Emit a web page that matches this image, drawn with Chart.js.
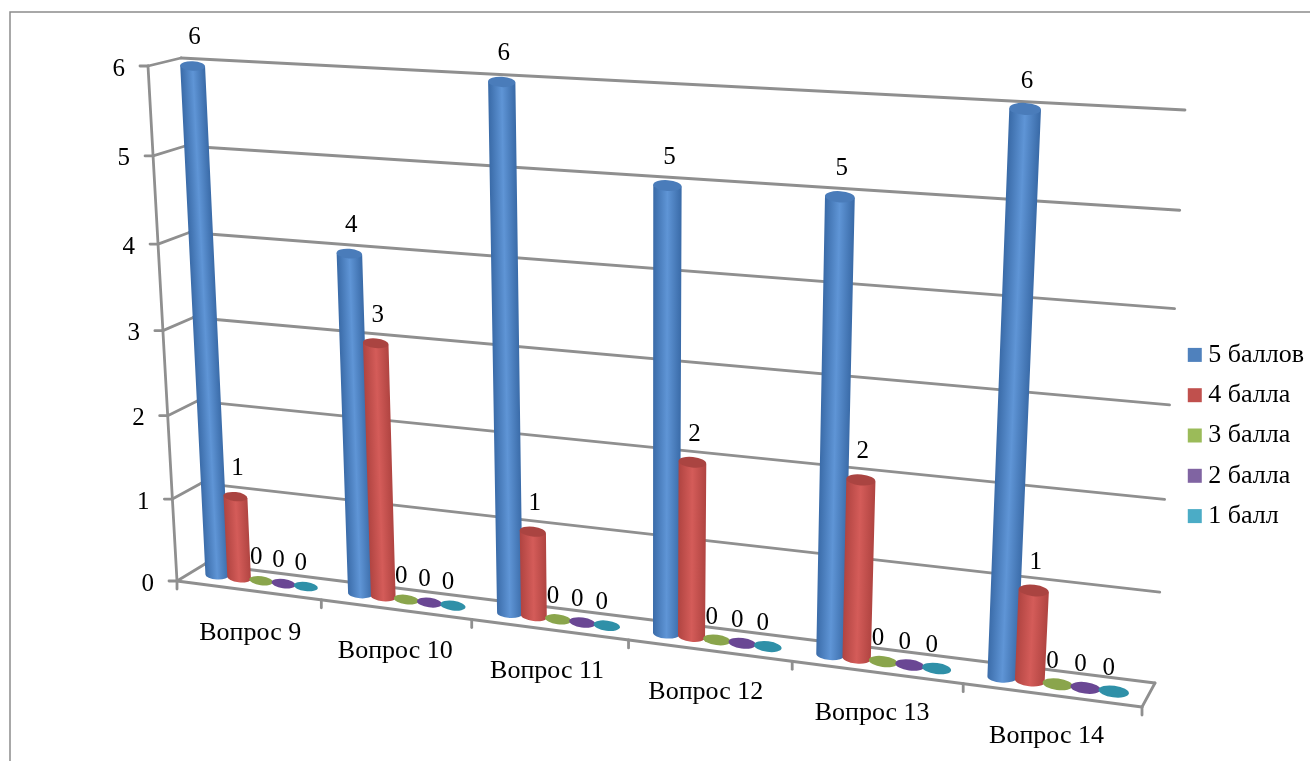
<!DOCTYPE html>
<html>
<head>
<meta charset="utf-8">
<title>Вопросы 9-14</title>
<script src="https://cdn.jsdelivr.net/npm/chart.js@4/dist/chart.umd.min.js"></script>
<style>
  html, body { margin: 0; padding: 0; background: #fff; }
  canvas { display: block; }
</style>
</head>
<body>
<canvas id="chart" width="1310" height="761"></canvas>
<script>
// values
var categories = ["Вопрос 9", "Вопрос 10", "Вопрос 11", "Вопрос 12", "Вопрос 13", "Вопрос 14"];
var seriesNames = ["5 баллов", "4 балла", "3 балла", "2 балла", "1 балл"];
var score5 = [6, 4, 6, 5, 5, 6];
var score4 = [1, 3, 1, 2, 2, 1];
var score3 = [0, 0, 0, 0, 0, 0];
var score2 = [0, 0, 0, 0, 0, 0];
var score1 = [0, 0, 0, 0, 0, 0];
var yMax = 6;

// colours: legend, cylinder edge, cylinder middle, cap
var legendColors = ["#4F81BD", "#C0504D", "#9BBB59", "#8064A2", "#4BACC6"];
var edgeColors = ["#3a6ba8", "#b04441", "#7f9a45", "#5d3f85", "#2a8aa3"];
var midColors = ["#5f95d6", "#d45c59", "#93ad50", "#6f4b99", "#3497ae"];
var capColors = ["#4a7cba", "#aa4441", "#8aa54c", "#6a4794", "#2f90a8"];

var fontFamily = "'Liberation Serif', serif";
var gridColor = "#8f8f8f";

// the plot is a flat rectangle for Chart.js, these quads place it in perspective
// order: bottom left, bottom right, top right, top left
var wallQuad = [[205, 564], [1155, 683], [1185, 110], [181, 58]];
var frontQuad = [[177, 581], [1142, 707], [1172, 125], [148, 66]];
var barQuad = [[191, 571.6], [1148, 696], [1181, 117], [165, 64.5]];

function homography(q) {
	var x0 = q[0][0], y0 = q[0][1], x1 = q[1][0], y1 = q[1][1];
	var x2 = q[2][0], y2 = q[2][1], x3 = q[3][0], y3 = q[3][1];
	var dx1 = x1 - x2, dx2 = x3 - x2, sx = x0 - x1 + x2 - x3;
	var dy1 = y1 - y2, dy2 = y3 - y2, sy = y0 - y1 + y2 - y3;
	var den = dx1 * dy2 - dx2 * dy1;
	var g = (sx * dy2 - dx2 * sy) / den;
	var h = (dx1 * sy - sx * dy1) / den;
	var a = x1 - x0 + g * x1, b = x3 - x0 + h * x3;
	var d = y1 - y0 + g * y1, e = y3 - y0 + h * y3;
	return function (u, v) {
		var w = g * u + h * v + 1;
		return [(a * u + b * v + x0) / w, (d * u + e * v + y0) / w];
	};
}

var wall = homography(wallQuad);
var front = homography(frontQuad);
var plane = homography(barQuad);

function line(ctx, a, b) {
	ctx.beginPath();
	ctx.moveTo(a[0], a[1]);
	ctx.lineTo(b[0], b[1]);
	ctx.stroke();
}

function drawCylinder(ctx, area, el, i) {
	function at(x, y) {
		return plane((x - area.left) / area.width, (area.bottom - y) / area.height);
	}
	var half = el.width / 2;
	var tl = at(el.x - half, el.y), tr = at(el.x + half, el.y);
	var bl = at(el.x - half, el.base), br = at(el.x + half, el.base);
	var tc = at(el.x, el.y), bc = at(el.x, el.base);
	var topR = (tr[0] - tl[0]) / 2, baseR = (br[0] - bl[0]) / 2;
	var rot = Math.atan2(tr[1] - tl[1], tr[0] - tl[0]);

	if (el.base - el.y > 1) {
		// shade across the cylinder, square to its leaning axis
		var ax = tc[0] - bc[0], ay = tc[1] - bc[1], len = Math.sqrt(ax * ax + ay * ay);
		var nx = -ay / len, ny = ax / len, r = (topR + baseR) / 2;
		var mx = (tc[0] + bc[0]) / 2, my = (tc[1] + bc[1]) / 2;
		var grad = ctx.createLinearGradient(mx - nx * r, my - ny * r, mx + nx * r, my + ny * r);
		grad.addColorStop(0, edgeColors[i]);
		grad.addColorStop(0.5, midColors[i]);
		grad.addColorStop(1, edgeColors[i]);
		ctx.fillStyle = grad;
		ctx.beginPath();
		ctx.ellipse(bc[0], bc[1], baseR, baseR * 0.38, rot, 0, Math.PI);
		ctx.lineTo(tl[0], tl[1]);
		ctx.lineTo(tr[0], tr[1]);
		ctx.closePath();
		ctx.fill();
	}
	ctx.fillStyle = capColors[i];
	ctx.beginPath();
	ctx.ellipse(tc[0], tc[1], topR, topR * 0.38, rot, 0, Math.PI * 2);
	ctx.fill();
}

var perspective = {
	id: "perspective",
	beforeDraw: function (chart) {
		var ctx = chart.ctx;
		ctx.save();
		ctx.strokeStyle = "#8c8c8c";
		ctx.lineWidth = 1.5;
		ctx.beginPath();
		ctx.moveTo(1310, 12);
		ctx.lineTo(10, 12);
		ctx.lineTo(10, 761);
		ctx.stroke();
		ctx.restore();
	},
	// the flat bars are replaced by cylinders, so the whole pass happens here
	beforeDatasetsDraw: function (chart) {
		var ctx = chart.ctx, area = chart.chartArea;
		var xs = chart.scales.x, ys = chart.scales.y;
		ctx.save();
		ctx.strokeStyle = gridColor;
		ctx.lineWidth = 2.8;
		ctx.lineCap = "round";

		// back wall grid, side wall steps, left axis
		ys.ticks.forEach(function (t) {
			var v = (area.bottom - ys.getPixelForValue(t.value)) / area.height;
			line(ctx, wall(0, v), wall(1, v));
			line(ctx, front(0, v), wall(0, v));
			var f = front(0, v);
			line(ctx, [f[0] - 8, f[1]], f);
		});
		line(ctx, front(0, 0), front(0, 1));

		// floor edges and category ticks
		line(ctx, front(0, 0), front(1, 0));
		line(ctx, front(1, 0), wall(1, 0));
		for (var c = 0; c <= categories.length; c++) {
			var p = front(c / categories.length, 0);
			line(ctx, p, [p[0], p[1] + 8]);
		}

		// y tick labels
		ctx.fillStyle = "#000";
		ctx.font = "25px " + fontFamily;
		ctx.textAlign = "right";
		ctx.textBaseline = "middle";
		ys.ticks.forEach(function (t) {
			var v = (area.bottom - ys.getPixelForValue(t.value)) / area.height;
			var f = front(0, v);
			ctx.fillText(t.label, f[0] - 23, f[1] + 3);
		});

		// x tick labels
		ctx.font = "26px " + fontFamily;
		ctx.textAlign = "center";
		categories.forEach(function (name, k) {
			var u = (xs.getPixelForTick(k) - area.left) / area.width;
			var b = plane(u, 0);
			ctx.fillText(name, b[0] - 11, b[1] + 52);
		});

		// cylinders, category by category so that neighbours overlap left to right
		categories.forEach(function (name, k) {
			chart.data.datasets.forEach(function (ds, i) {
				drawCylinder(ctx, area, chart.getDatasetMeta(i).data[k], i);
			});
		});

		// value labels
		ctx.fillStyle = "#000";
		ctx.font = "25px " + fontFamily;
		chart.data.datasets.forEach(function (ds, i) {
			chart.getDatasetMeta(i).data.forEach(function (el, k) {
				var t = plane((el.x - area.left) / area.width, (area.bottom - el.y) / area.height);
				var zero = ds.data[k] === 0;
				ctx.fillText(String(ds.data[k]), t[0] + (zero ? -5 : 2), t[1] + (zero ? -23 : -28));
			});
		});
		ctx.restore();
		return false;
	}
};

var seriesValues = [score5, score4, score3, score2, score1];

var chart = new Chart(document.getElementById("chart"), {
	type: "bar",
	data: {
		labels: categories,
		datasets: seriesNames.map(function (name, i) {
			return {
				label: name,
				data: seriesValues[i],
				backgroundColor: legendColors[i],
				barPercentage: 1.08,
				categoryPercentage: 0.78
			};
		})
	},
	options: {
		responsive: false,
		animation: false,
		layout: { padding: { top: 110, right: -4 } },
		plugins: {
			tooltip: { enabled: false },
			legend: {
				position: "right",
				onClick: null,
				labels: {
					// tiny box with a thick border: gives the 14px square and the reference's short gap to the text
					boxWidth: 1,
					boxHeight: 1,
					padding: 14.3,
					color: "#000",
					font: { family: "'Liberation Serif', serif", size: 26 },
					generateLabels: function (c) {
						var items = Chart.defaults.plugins.legend.labels.generateLabels(c);
						items.forEach(function (it) {
							it.lineWidth = 13;
							it.strokeStyle = it.fillStyle;
						});
						return items;
					}
				}
			}
		},
		scales: {
			x: { display: false },
			y: { display: false, min: 0, max: yMax, ticks: { stepSize: 1 } }
		}
	},
	plugins: [perspective]
});
</script>
</body>
</html>
